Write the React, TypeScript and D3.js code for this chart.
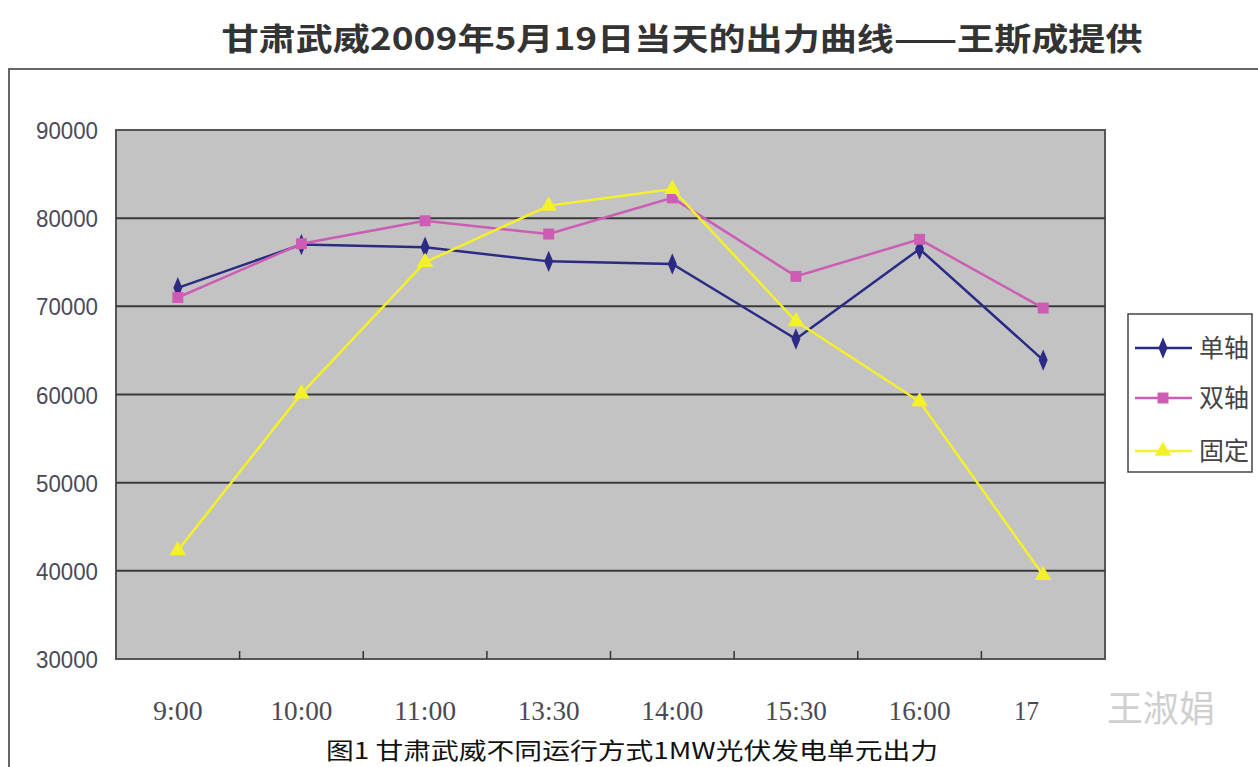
import React from "react";
import * as d3 from "d3";

const categories = ["9:00", "10:00", "11:00", "13:30", "14:00", "15:30", "16:00", "17:00"];
const singleAxis = [72100, 77000, 76700, 75100, 74800, 66300, 76500, 63900];
const dualAxis = [71000, 77100, 79700, 78200, 82300, 73400, 77600, 69800];
const fixedMount = [42300, 60100, 75000, 81400, 83300, 68300, 59200, 39500];
const seriesNames = ["单轴", "双轴", "固定"];
const yTicks = [30000, 40000, 50000, 60000, 70000, 80000, 90000];
const title = "甘肃武威2009年5月19日当天的出力曲线——王斯成提供";
const caption = "图1 甘肃武威不同运行方式1MW光伏发电单元出力";

const W = 1258, H = 767;
const plot = { left: 116, right: 1105, top: 130, bottom: 659 };

export default function App() {
  const x = d3.scaleBand<string>().domain(categories).range([plot.left, plot.right]);
  const y = d3.scaleLinear().domain([30000, 90000]).range([plot.bottom, plot.top]);
  const line = d3.line<number>().x((_, i) => x(categories[i])! + x.bandwidth() / 2).y((d) => y(d));

  const series = [
    { name: seriesNames[0], data: singleAxis, color: "#2b2b85", marker: "diamond" },
    { name: seriesNames[1], data: dualAxis, color: "#cc5cb4", marker: "square" },
    { name: seriesNames[2], data: fixedMount, color: "#f4f02a", marker: "triangle" },
  ];
  const sym = (m: string) => {
    if (m === "diamond") return d3.symbol().type(d3.symbolDiamond).size(110)()!;
    if (m === "square") return d3.symbol().type(d3.symbolSquare).size(120)()!;
    return d3.symbol().type(d3.symbolTriangle).size(120)()!;
  };

  const legendY = [348, 398, 451];

  return (
    <svg width={W} height={H} style={{ position: "absolute", left: 0, top: 0, background: "#fff" }}>
      <rect x={0} y={0} width={W} height={H} fill="#fff" />
      <text x={682} y={50} textAnchor="middle" fontFamily="'Noto Sans CJK SC'" fontWeight="bold" fontSize={31}
        fill="#333" textLength={921} lengthAdjust="spacingAndGlyphs">{title}</text>
      {/* outer frame */}
      <path d={`M9,${H} V69 H${W}`} fill="none" stroke="#666" strokeWidth={2} />
      {/* plot area */}
      <rect x={plot.left} y={plot.top} width={plot.right - plot.left} height={plot.bottom - plot.top}
        fill="#c3c3c3" stroke="#555" strokeWidth={2} />
      {yTicks.map((t) => (
        <g key={t}>
          {t > 30000 && t < 90000 && (
            <line x1={plot.left} x2={plot.right} y1={y(t)} y2={y(t)} stroke="#3a3a3a" strokeWidth={2} />
          )}
          <text x={98} y={y(t) + 9} textAnchor="end" fontFamily="'Liberation Sans'" fontSize={24}
            fill="#4a4a5a" textLength={62} lengthAdjust="spacingAndGlyphs">{t}</text>
        </g>
      ))}
      {categories.map((c, i) => (
        <g key={c}>
          {i > 0 && (
            <line x1={x(c)} x2={x(c)} y1={plot.bottom} y2={plot.bottom - 8} stroke="#333" strokeWidth={1.5} />
          )}
          {i < categories.length - 1 && (
            <text x={x(c)! + x.bandwidth() / 2} y={720} textAnchor="middle" fontFamily="'Liberation Serif'"
              fontSize={28} fill="#4a4a55" textLength={c.length * 12.4} lengthAdjust="spacingAndGlyphs">{c}</text>
          )}
          {i === categories.length - 1 && (
            <text x={1014} y={720} fontFamily="'Liberation Serif'" fontSize={28} fill="#4a4a55"
              textLength={25} lengthAdjust="spacingAndGlyphs">17</text>
          )}
        </g>
      ))}
      {series.map((s) => (
        <g key={s.name}>
          <path d={line(s.data)!} fill="none" stroke={s.color} strokeWidth={2.5} />
          {s.data.map((v, i) => (
            <path key={i} d={sym(s.marker)}
              transform={`translate(${x(categories[i])! + x.bandwidth() / 2},${y(v)})${s.marker === "diamond" ? " scale(0.8,1.1)" : ""}`}
              fill={s.color} />
          ))}
        </g>
      ))}
      {/* legend */}
      <rect x={1128} y={314} width={124} height={158} fill="#fff" stroke="#444" strokeWidth={1.5} />
      {series.map((s, i) => (
        <g key={s.name}>
          <line x1={1135} x2={1192} y1={legendY[i]} y2={legendY[i]} stroke={s.color} strokeWidth={2.5} />
          <path d={sym(s.marker)} transform={`translate(1163,${legendY[i]})${s.marker === "diamond" ? " scale(0.8,1.1)" : ""}`} fill={s.color} />
          <text x={1199} y={legendY[i] + 9} fontFamily="'Noto Sans CJK SC'" fontSize={25} fill="#444">{s.name}</text>
        </g>
      ))}
      {/* watermark */}
      <text x={1107} y={722} fontFamily="'Noto Sans CJK SC'" fontSize={36} fill="#cfcfcf">王淑娟</text>
      <text x={632} y={759} textAnchor="middle" fontFamily="'Noto Sans CJK SC'" fontSize={23} fill="#111"
        textLength={612} lengthAdjust="spacingAndGlyphs">{caption}</text>
    </svg>
  );
}
